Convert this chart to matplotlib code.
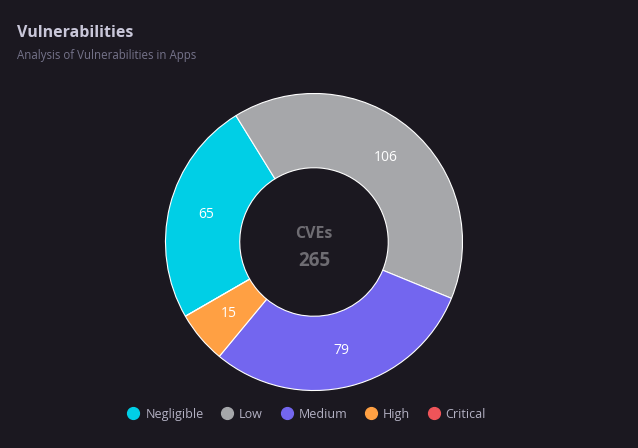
import matplotlib.pyplot as plt
from matplotlib.lines import Line2D

categories = ["Negligible", "Low", "Medium", "High", "Critical"]
counts = [65, 106, 79, 15, 0]
colors = ["#00cfe6", "#a6a7aa", "#7366ef", "#ffa043", "#ef5459"]

bg = "#1b1820"
plt.rcParams['font.family'] = ['Open Sans', 'DejaVu Sans']

fig = plt.figure(figsize=(6.38, 4.48), dpi=100, facecolor=bg)
ax = fig.add_axes([164 / 638, 56 / 448, 300 / 638, 300 / 448])
ax.set_facecolor(bg)

wedges, texts, autotexts = ax.pie(
    counts, colors=colors, startangle=210, counterclock=False,
    radius=1.0, autopct=lambda p: f"{round(p * sum(counts) / 100)}" if p > 0 else "",
    pctdistance=0.75,
    wedgeprops=dict(width=0.5, edgecolor="#ffffff", linewidth=0.8),
    textprops=dict(color="white", fontsize=10),
)
ax.set_xlim(-1.01, 1.01)
ax.set_ylim(-1.01, 1.01)
ax.axis("off")

ax.text(0, 0.055, "CVEs", ha="center", va="center", color="#6e6c72",
        fontsize=11.5, fontweight="bold")
ax.text(0, -0.125, str(sum(counts)), ha="center", va="center", color="#6e6c72",
        fontsize=13.5, fontweight="bold")

fig.text(17 / 638, 1 - 33 / 448, "Vulnerabilities", ha="left", va="center",
         color="#c9c7d9", fontsize=11.5, fontweight="bold")
fig.text(17 / 638, 1 - 56 / 448, "Analysis of Vulnerabilities in Apps", ha="left",
         va="center", color="#75738a", fontsize=8.3)

handles = [Line2D([0], [0], marker="o", linestyle="", markersize=8.5,
                  markerfacecolor=c, markeredgecolor=c) for c in colors]
leg = fig.legend(handles, categories, loc="center", bbox_to_anchor=(306 / 638, 1 - 414 / 448),
                 ncol=5, frameon=False, fontsize=9, handletextpad=0.35,
                 columnspacing=1.3, handlelength=1.2)
for t in leg.get_texts():
    t.set_color("#b3b1c3")

fig.savefig("out.png", dpi=100, facecolor=bg)
